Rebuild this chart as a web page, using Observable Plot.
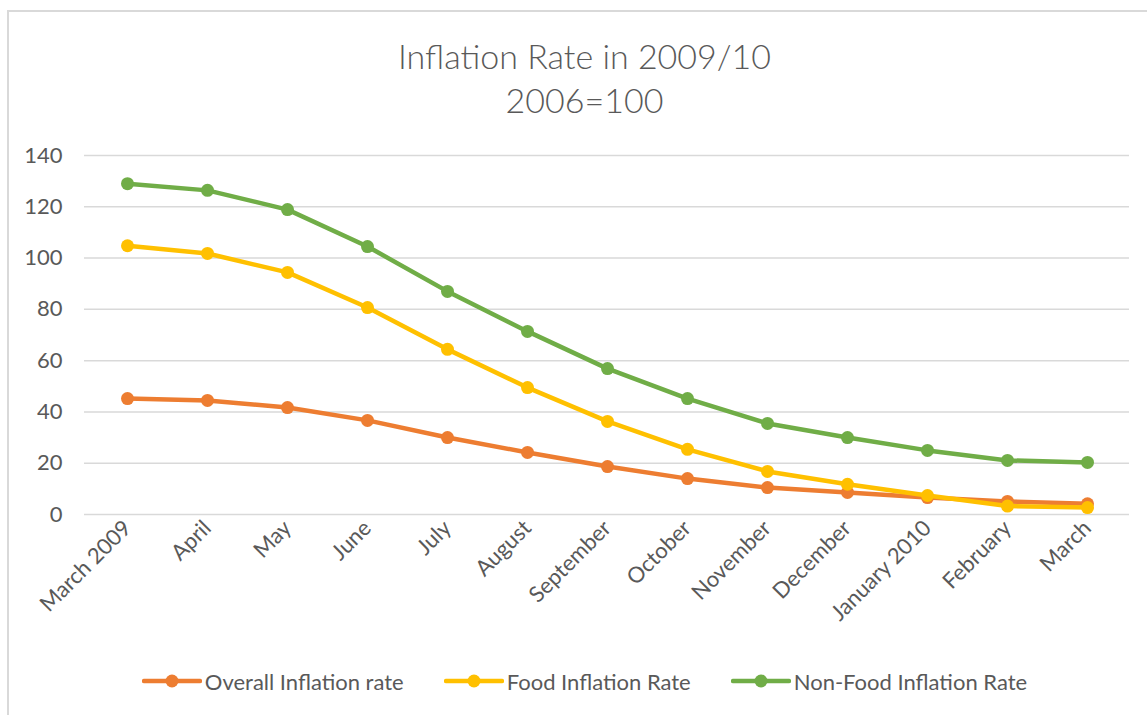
<!DOCTYPE html>
<html>
<head>
<meta charset="utf-8">
<script src="https://cdn.jsdelivr.net/npm/d3@7"></script>
<script src="https://cdn.jsdelivr.net/npm/@observablehq/plot@0.6"></script>
<style>
  html, body { margin: 0; padding: 0; background: #fff; overflow: hidden; }
  body { width: 1147px; height: 715px; position: relative; }
  #frame {
    position: absolute; left: 7px; top: 10px; width: 1200px; height: 800px;
    border-left: 2px solid #d9d9d9; border-top: 2px solid #d9d9d9;
  }
  #chart {
    position: absolute; left: 0; top: 0; width: 1147px; height: 715px;
    font-family: Lato, Roboto, "Noto Sans", sans-serif; color: #595959;
  }
  #title {
    height: 135px; box-sizing: border-box; padding-top: 34px; padding-left: 22px;
    text-align: center; font-size: 34px; font-weight: 300; line-height: 44px;
  }
  #plot svg { display: block; }
  #legend {
    display: flex; justify-content: center; align-items: center; gap: 40px;
    height: 52px; font-size: 22px; padding-left: 22px;
  }
  .item { display: flex; align-items: center; }
  .item svg { display: block; margin-right: 3px; }
</style>
</head>
<body>
<div id="frame"></div>
<div id="chart">
  <div id="title">Inflation Rate in 2009/10<br>2006=100</div>
  <div id="plot"></div>
  <div id="legend"></div>
</div>
<script>
// Monthly categories, March 2009 to March 2010
const months = ["March 2009", "April", "May", "June", "July", "August", "September",
  "October", "November", "December", "January 2010", "February", "March"];

// Series values (2006 = 100)
const overall = [45.2, 44.5, 41.7, 36.7, 30.0, 24.2, 18.7, 14.0, 10.5, 8.6, 6.6, 5.1, 4.2];
const food = [104.8, 101.8, 94.4, 80.7, 64.4, 49.5, 36.3, 25.4, 16.8, 11.8, 7.4, 3.3, 2.7];
const nonFood = [129.0, 126.4, 118.9, 104.5, 87.0, 71.4, 56.9, 45.2, 35.5, 30.0, 25.0, 21.1, 20.3];

const seriesNames = ["Overall Inflation rate", "Food Inflation Rate", "Non-Food Inflation Rate"];
const seriesColors = ["#ED7D31", "#FFC000", "#70AD47"];
const yTicks = [0, 20, 40, 60, 80, 100, 120, 140];

const seriesValues = [overall, food, nonFood];
const seriesRows = seriesValues.map((vals, i) =>
  months.map((m, j) => ({ month: m, value: vals[j], series: seriesNames[i] })));

// Each series draws its line and then its markers, in order
const seriesMarks = seriesRows.flatMap((rows, i) => [
  Plot.line(rows, { x: "month", y: "value", stroke: seriesColors[i], strokeWidth: 4.5 }),
  Plot.dot(rows, { x: "month", y: "value", fill: seriesColors[i], r: 6.5 })
]);

const chart = Plot.plot({
  width: 1147,
  height: 520,
  marginLeft: 84,
  marginRight: 18,
  marginTop: 20,
  marginBottom: 141,
  x: { type: "point", domain: months, padding: 0.5 },
  y: { domain: [0, 140] },
  style: {
    fontFamily: "Lato, Roboto, 'Noto Sans', sans-serif",
    fontSize: "22px",
    color: "#595959",
    background: "transparent",
    overflow: "visible"
  },
  marks: [
    Plot.gridY(yTicks, { stroke: "#d9d9d9", strokeOpacity: 1, strokeWidth: 1.5 }),
    Plot.axisY(yTicks, { tickSize: 0, tickPadding: 22, label: null, fill: "#595959" }),
    Plot.axisX({ tickSize: 0, tickPadding: 10, tickRotate: -45, label: null, fill: "#595959" }),
    ...seriesMarks
  ]
});
document.getElementById("plot").appendChild(chart);

// Legend: line-with-marker swatches
const legend = document.getElementById("legend");
seriesNames.forEach((name, i) => {
  const item = document.createElement("div");
  item.className = "item";
  item.innerHTML =
    `<svg width="60" height="16"><line x1="2" y1="8" x2="58" y2="8" stroke="${seriesColors[i]}" stroke-width="4.5" stroke-linecap="round"/>` +
    `<circle cx="30" cy="8" r="6.5" fill="${seriesColors[i]}"/></svg><span>${name}</span>`;
  legend.appendChild(item);
});
</script>
</body>
</html>
